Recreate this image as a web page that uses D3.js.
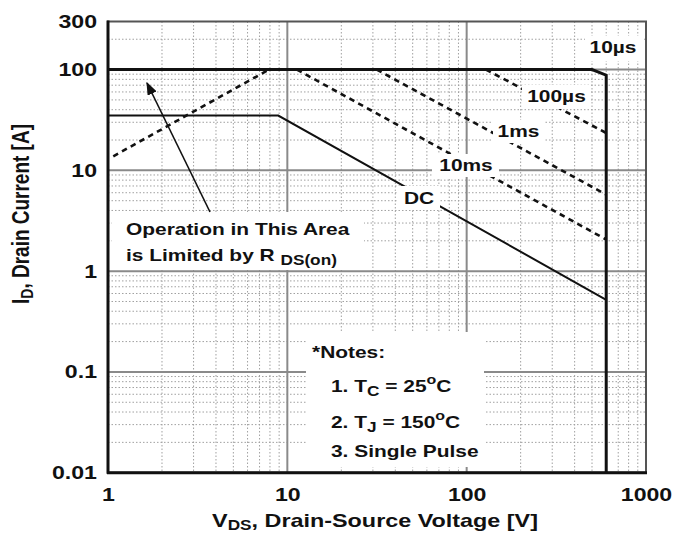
<!DOCTYPE html>
<html>
<head>
<meta charset="utf-8">
<script src="https://cdn.jsdelivr.net/npm/d3@7"></script>
<style>
  html, body { margin: 0; padding: 0; background: #fff; }
  svg { display: block; }
  text { font-family: "Liberation Sans", Arial, sans-serif; font-weight: bold; fill: #111; }
</style>
</head>
<body>
<svg id="chart" width="674" height="536"></svg>
<script>
// ---------- data ----------
const xTicks = [1, 10, 100, 1000];
const yTicks = [0.01, 0.1, 1, 10, 100, 300];
const xDomain = [1, 1000];
const yDomain = [0.01, 300];

// boundary: 10 µs / package limit + BVdss
const limit10us = [[1, 100], [500, 100], [600, 88], [600, 0.01]];
// R_DS(on) limit (dashed)
const rdsOnLimit = [[1.07, 13.8], [7.9, 100]];
// DC (solid)
const dcLine = [[1, 35], [8.9, 35], [600, 0.52]];
// pulse lines (dashed)
const ms10Line = [[11.3, 100], [600, 2.06]];
const ms1Line = [[31.5, 100], [600, 5.75]];
const us100Line = [[128, 100], [600, 23.5]];

// ---------- setup ----------
const svg = d3.select("#chart");
const x = d3.scaleLog().domain(xDomain).range([108, 646]);
const y = d3.scaleLog().domain(yDomain).range([472.7, 21.5]);
const [X0, X1] = x.range();
const [Y0, Y1] = y.range();
const K = 1.23; // horizontal text stretch of the original

function txt(px, py, size, anchor) {
  return svg.append("text")
    .attr("transform", `translate(${px},${py}) scale(${K},1)`)
    .attr("text-anchor", anchor || "start")
    .attr("font-size", size);
}

// minor grid values
const decadesX = [1, 10, 100];
const xMinor = decadesX.flatMap(d => d3.range(2, 10).map(m => d * m));
const decadesY = [0.01, 0.1, 1, 10, 100];
const yMinor = decadesY.flatMap(d => d3.range(2, 10).map(m => +(d * m).toPrecision(3))).filter(v => v < 300);

const grid = svg.append("g");
grid.selectAll(".vminor").data(xMinor).join("line")
  .attr("x1", d => x(d)).attr("x2", d => x(d)).attr("y1", Y1).attr("y2", Y0)
  .attr("stroke", "#a0a0a0").attr("stroke-width", 1).attr("stroke-dasharray", "1.5,2");
grid.selectAll(".hminor").data(yMinor).join("line")
  .attr("y1", d => y(d)).attr("y2", d => y(d)).attr("x1", X0).attr("x2", X1)
  .attr("stroke", "#a0a0a0").attr("stroke-width", 1).attr("stroke-dasharray", "1.5,2");
grid.selectAll(".vmajor").data([10, 100]).join("line")
  .attr("x1", d => x(d)).attr("x2", d => x(d)).attr("y1", Y1).attr("y2", Y0)
  .attr("stroke", "#8a8a8a").attr("stroke-width", 2);
grid.selectAll(".hmajor").data([0.1, 1, 10, 100]).join("line")
  .attr("y1", d => y(d)).attr("y2", d => y(d)).attr("x1", X0).attr("x2", X1)
  .attr("stroke", "#8a8a8a").attr("stroke-width", 2);

// frame
svg.append("rect").attr("x", X0).attr("y", Y1).attr("width", X1 - X0).attr("height", Y0 - Y1)
  .attr("fill", "none").attr("stroke", "#555").attr("stroke-width", 2);
svg.append("line").attr("x1", X0).attr("x2", X0).attr("y1", Y1 - 1).attr("y2", Y0 + 1)
  .attr("stroke", "#111").attr("stroke-width", 3);
svg.append("line").attr("x1", X0 - 1).attr("x2", X1 + 1).attr("y1", Y0).attr("y2", Y0)
  .attr("stroke", "#111").attr("stroke-width", 3);

// curves
const line = d3.line().x(d => x(d[0])).y(d => y(d[1]));
const curves = svg.append("g").attr("fill", "none").attr("stroke", "#111");
curves.append("path").datum(limit10us).attr("d", line).attr("stroke-width", 3).attr("stroke-linejoin", "miter");
curves.append("path").datum(dcLine).attr("d", line).attr("stroke-width", 2);
[rdsOnLimit, ms10Line, ms1Line, us100Line].forEach(s => {
  curves.append("path").datum(s).attr("d", line).attr("stroke-width", 2.6).attr("stroke-dasharray", "5.5,4.5");
});

// labels with white boxes
function boxLabel(label, cx, baseline, bx0, by0, bx1, by1) {
  svg.append("rect").attr("x", bx0).attr("y", by0).attr("width", bx1 - bx0).attr("height", by1 - by0).attr("fill", "#fff");
  txt(cx, baseline, 17, "middle").text(label);
}
boxLabel("10\u00b5s", 613, 53, 585, 36, 644, 61);
boxLabel("100\u00b5s", 556.5, 102, 522, 85, 591, 109);
boxLabel("1ms", 518.5, 137, 493, 120, 545, 143);
boxLabel("10ms", 466, 171, 432, 154, 499, 177);
boxLabel("DC", 419, 204, 398, 186, 440, 210);

// Operation text box
svg.append("rect").attr("x", 112).attr("y", 212).attr("width", 252).attr("height", 58).attr("fill", "#fff");
txt(126, 235, 17).text("Operation in This Area");
const t2 = txt(126, 261, 17);
t2.append("tspan").text("is Limited by R ");
t2.append("tspan").attr("font-size", 14).attr("dy", 4).text("DS(on)");

// arrow
svg.append("defs").append("marker").attr("id", "ah").attr("viewBox", "0 0 10 10")
  .attr("refX", 9).attr("refY", 5).attr("markerWidth", 13).attr("markerHeight", 10).attr("orient", "auto")
  .attr("markerUnits", "userSpaceOnUse").attr("preserveAspectRatio", "none")
  .append("path").attr("d", "M0,0 L10,5 L0,10 z").attr("fill", "#111");
svg.append("line").attr("x1", 210).attr("y1", 212).attr("x2", 147).attr("y2", 83)
  .attr("stroke", "#111").attr("stroke-width", 1.6).attr("marker-end", "url(#ah)");

// notes box
svg.append("rect").attr("x", 306).attr("y", 332).attr("width", 178).attr("height", 135).attr("fill", "#fff");
txt(312, 358, 17).text("*Notes:");
function note(yb, parts) {
  const t = txt(331, yb, 17);
  parts.forEach(p => {
    const s = t.append("tspan").text(p.t);
    if (p.sub) s.attr("font-size", 14).attr("dy", 4);
    if (p.sup) s.attr("font-size", 13).attr("dy", p.dy);
    if (p.back) s.attr("dy", p.back);
  });
}
note(392, [{t: "1. T"}, {t: "C", sub: true}, {t: " = 25", back: -4}, {t: "o", sup: true, dy: -8}, {t: "C", back: 8}]);
note(428, [{t: "2. T"}, {t: "J", sub: true}, {t: " = 150", back: -4}, {t: "o", sup: true, dy: -8}, {t: "C", back: 8}]);
note(457, [{t: "3. Single Pulse"}]);

// axes
const fmt = d3.format("~g");
const yAxis = svg.append("g").attr("transform", `translate(${X0 - 11},0)`)
  .call(d3.axisLeft(y).tickValues(yTicks).tickFormat(fmt).tickSize(0).tickPadding(0));
yAxis.select(".domain").remove();
yAxis.selectAll("text").attr("font-size", 18.5).attr("font-family", null).attr("fill", "#111")
  .attr("transform", "scale(1.25,1)");

const xAxis = svg.append("g").attr("transform", `translate(0,${Y0 + 15})`)
  .call(d3.axisBottom(x).tickValues(xTicks).tickFormat(fmt).tickSize(0).tickPadding(0));
xAxis.select(".domain").remove();
xAxis.selectAll("text").attr("font-size", 18.5).attr("font-family", null).attr("fill", "#111")
  .attr("transform", "scale(1.25,1)");

// axis titles
const xt = txt(375, 527, 19, "middle");
xt.append("tspan").text("V");
xt.append("tspan").attr("font-size", 14).attr("dy", 3).text("DS");
xt.append("tspan").attr("dy", -3).text(", Drain-Source Voltage [V]");

const yt = svg.append("text").attr("transform", `translate(29,214) scale(${K},1) rotate(-90)`)
  .attr("text-anchor", "middle").attr("font-size", 19);
yt.append("tspan").text("I");
yt.append("tspan").attr("font-size", 14).attr("dy", 3).text("D");
yt.append("tspan").attr("dy", -3).text(", Drain Current [A]");
</script>
</body>
</html>
